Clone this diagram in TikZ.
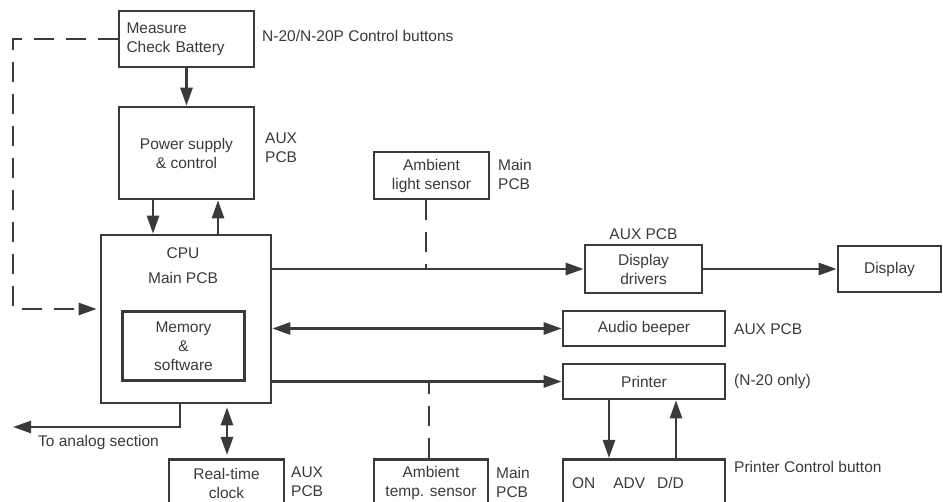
\documentclass[tikz,border=0pt]{standalone}
\usepackage{fontspec}
\setmainfont{Liberation Sans}
\usetikzlibrary{arrows.meta,positioning,calc}
\definecolor{ink}{HTML}{3A3A3A}
\begin{document}
\begin{tikzpicture}[x=1pt,y=-1pt,
  every node/.style={font=\fontsize{15.5pt}{19pt}\selectfont, text=ink},
  box/.style={draw=ink, line width=2.6pt, inner sep=0pt, align=center},
  lbl/.style={inner sep=0pt, align=left, anchor=west},
  conn/.style={draw=ink, line width=2.6pt},
  tip/.style={},
  arr/.style={conn, -{Triangle[length=18pt,width=12pt]}},
  darr/.style={conn, {Triangle[length=18pt,width=12pt]}-{Triangle[length=18pt,width=12pt]}},
  dashline/.style={conn, dash pattern=on 20pt off 12pt}
]
\useasboundingbox (0,0) rectangle (943,502);
\clip (0,0) rectangle (943,502);

% boxes
\node[box, minimum width=135, minimum height=56, text width=120, align=left] (meas) at (186.5,39) {Measure\\Check Battery};
\node[box, minimum width=135, minimum height=92] (power) at (186.5,153) {Power supply\\\& control};
\node[box, minimum width=170, minimum height=168] (cpu) at (186,319) {};
\node[inner sep=0pt, align=center, font=\fontsize{15.5pt}{25pt}\selectfont] (cputxt) at (183,266) {CPU\\Main PCB};
\node[box, minimum width=122, minimum height=69] (mem) at (183.5,346) {Memory\\\&\\software};
\node[box, minimum width=115, minimum height=47] (amblight) at (431.5,175.5) {Ambient\\light sensor};
\node[box, minimum width=117, minimum height=48] (dispdrv) at (643.5,269) {Display\\drivers};
\node[box, minimum width=103, minimum height=46] (disp) at (889.5,269) {Display};
\node[box, minimum width=162, minimum height=35] (audio) at (644,328.5) {Audio beeper};
\node[box, minimum width=162, minimum height=35] (printer) at (644,381.5) {Printer};
\node[box, minimum width=115, minimum height=48, anchor=north] (rtc) at (226.5,458) {Real-time\\clock};
\node[box, minimum width=114, minimum height=48, anchor=north] (ambtemp) at (431,458) {Ambient\\temp. sensor};
\node[box, minimum width=162, minimum height=48, anchor=north, text width=144, align=left] (pctrl) at (644,458) {ON\hspace{18pt}ADV\hspace{12pt}D/D};

% labels
\node[lbl] (l1) at (262,36) {N-20/N-20P Control buttons};
\node[lbl] (l2) at (265,148) {AUX\\PCB};
\node[lbl] (l3) at (498,174) {Main\\PCB};
\node[inner sep=0pt] (l4) at (643.5,234) {AUX PCB};
\node[lbl] (l5) at (734,329) {AUX PCB};
\node[lbl] (l6) at (734,381) {(N-20 only)};
\node[lbl] (l7) at (734,467) {Printer Control button};
\node[lbl] (l8) at (291,482) {AUX\\PCB};
\node[lbl] (l9) at (496,482) {Main\\PCB};
\node[lbl] (l10) at (38,442) {To analog section};

% helper coordinates
\coordinate (x153) at (153,0);
\coordinate (x218) at (218,0);
\coordinate (lx) at (426,0);
\coordinate (tx) at (429,0);
\coordinate (px1) at (609,0);
\coordinate (px2) at (676,0);
\coordinate (rx) at (227,0);
\coordinate (ax) at (180,0);
\coordinate (analogend) at (13,427);
\coordinate (dl2) at (13,309);

% connectors
\draw[arr] (meas.south) -- (power.north);
\draw[arr] (power.south -| x153) -- (cpu.north -| x153);
\draw[arr] (cpu.north -| x218) -- (power.south -| x218);
\draw[dashline, -{Triangle[length=18pt,width=12pt]}, shorten >=3pt] (meas.west) -| (dl2) -- (cpu.west |- dl2);
\draw[arr] (cpu.east |- dispdrv.west) -- (dispdrv.west);
\draw[arr] (dispdrv.east) -- (disp.west |- dispdrv.east);
\draw[darr] (cpu.east |- audio.west) -- (audio.west);
\draw[arr] (cpu.east |- printer.west) -- (printer.west);
\draw[dashline] (amblight.south -| lx) -- (lx |- dispdrv.west);
\draw[dashline] (ambtemp.north -| tx) -- (tx |- printer.west);
\draw[arr] (printer.south -| px1) -- (pctrl.north -| px1);
\draw[arr] (pctrl.north -| px2) -- (printer.south -| px2);
\draw[darr, shorten <=3pt, shorten >=3pt] (cpu.south -| rx) -- (rtc.north -| rx);
\draw[arr] (cpu.south -| ax) |- (analogend);
\end{tikzpicture}
\end{document}
